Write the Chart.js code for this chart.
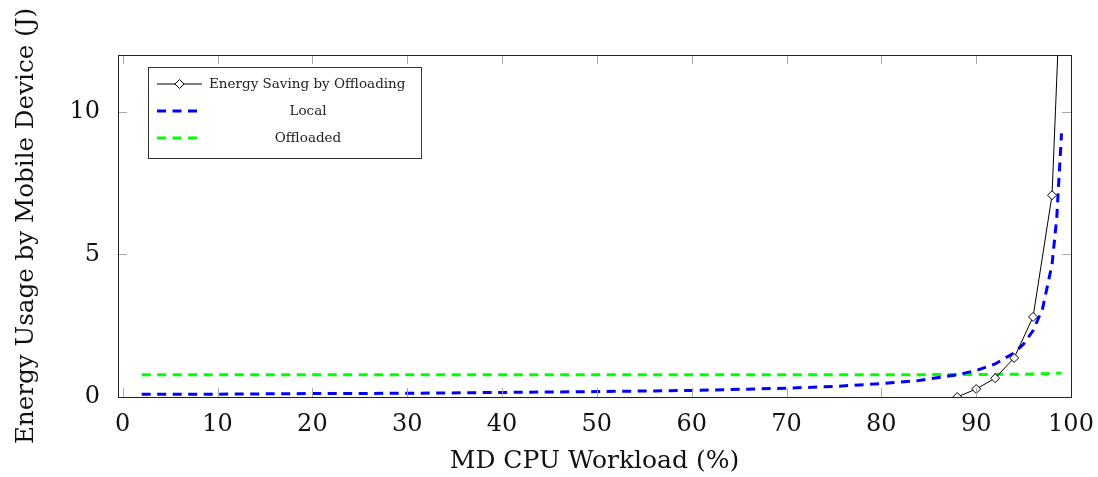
<!DOCTYPE html>
<html>
<head>
<meta charset="utf-8">
<script src="https://cdn.jsdelivr.net/npm/chart.js@4/dist/chart.umd.min.js"></script>
<style>
  html, body { margin: 0; padding: 0; background: #fff; }
</style>
</head>
<body>
<canvas id="energyChart" width="1098" height="477"></canvas>
<script>
// tick labels
const xTicks = [0, 10, 20, 30, 40, 50, 60, 70, 80, 90, 100];
const yTicks = [0, 5, 10];

// Energy Saving by Offloading (last point leaves the plot)
const savingX = [88, 90, 92, 94, 96, 98, 99];
const savingY = [0.0, 0.28, 0.66, 1.37, 2.81, 7.08, 15.3];

// Local
const localX = [2, 10, 20, 30, 40, 50, 60, 70, 75, 80, 84, 88, 90, 92, 94, 95, 96, 97, 98, 98.5, 99];
const localY = [0.10, 0.10, 0.12, 0.13, 0.16, 0.19, 0.23, 0.31, 0.37, 0.47, 0.58, 0.78, 0.93, 1.16, 1.55, 1.86, 2.33, 3.1, 4.65, 6.3, 9.25];

// Offloaded
const offloadX = [2, 20, 40, 60, 80, 90, 95, 99];
const offloadY = [0.78, 0.78, 0.78, 0.78, 0.78, 0.79, 0.80, 0.84];

const SERIF = '"DejaVu Serif", "Liberation Serif", serif';
const TICK_LEN = 9;
const DASH = [9, 6.5];

function toPoints(xs, ys) {
    return xs.map((x, i) => ({ x: x, y: ys[i] }));
}

// frame round the plot plus small inward ticks on all four sides
const frameTicks = {
    id: 'frameTicks',
    afterDatasetsDraw(chart) {
        const { ctx, chartArea: a, scales } = chart;
        ctx.save();
        ctx.strokeStyle = '#a8a8a8';
        ctx.lineWidth = 1;
        ctx.beginPath();
        scales.x.ticks.forEach(t => {
            const px = Math.round(scales.x.getPixelForValue(t.value)) + 0.5;
            ctx.moveTo(px, a.bottom); ctx.lineTo(px, a.bottom - TICK_LEN);
            ctx.moveTo(px, a.top); ctx.lineTo(px, a.top + TICK_LEN);
        });
        scales.y.ticks.forEach(t => {
            const py = Math.round(scales.y.getPixelForValue(t.value)) + 0.5;
            ctx.moveTo(a.left, py); ctx.lineTo(a.left + TICK_LEN, py);
            ctx.moveTo(a.right, py); ctx.lineTo(a.right - TICK_LEN, py);
        });
        ctx.stroke();
        ctx.strokeStyle = '#222';
        ctx.strokeRect(Math.round(a.left) + 0.5, Math.round(a.top) + 0.5,
            Math.round(a.right - a.left), Math.round(a.bottom - a.top));
        ctx.restore();
    }
};

// legend box inside the plot, top left
const insetLegend = {
    id: 'insetLegend',
    afterDraw(chart) {
        const ctx = chart.ctx;
        const box = { x: 148, y: 67, w: 273, h: 91 };
        const rowY = [84, 111, 138];
        ctx.save();
        ctx.fillStyle = '#fff';
        ctx.fillRect(box.x, box.y, box.w, box.h);
        ctx.strokeStyle = '#333';
        ctx.lineWidth = 1;
        ctx.strokeRect(box.x + 0.5, box.y + 0.5, box.w, box.h);
        ctx.font = '13.5px ' + SERIF;
        ctx.textBaseline = 'middle';
        chart.data.datasets.forEach((ds, i) => {
            const y = rowY[i];
            ctx.save();
            ctx.strokeStyle = ds.borderColor;
            ctx.lineWidth = ds.borderWidth;
            ctx.setLineDash(ds.borderDash || []);
            ctx.beginPath();
            ctx.moveTo(157, y);
            ctx.lineTo(i === 0 ? 202 : 197, y);
            ctx.stroke();
            ctx.restore();
            if (i === 0) {
                const cx = 179.5, r = 4.5;
                ctx.beginPath();
                ctx.moveTo(cx, y - r); ctx.lineTo(cx + r, y);
                ctx.lineTo(cx, y + r); ctx.lineTo(cx - r, y);
                ctx.closePath();
                ctx.fillStyle = '#fff';
                ctx.fill();
                ctx.strokeStyle = '#000';
                ctx.lineWidth = 1;
                ctx.stroke();
                ctx.fillStyle = '#222';
                ctx.textAlign = 'left';
                ctx.fillText(ds.label, 209, y);
            } else {
                ctx.fillStyle = '#222';
                ctx.textAlign = 'center';
                ctx.fillText(ds.label, 308, y);
            }
        });
        ctx.restore();
    }
};

const ctx = document.getElementById('energyChart').getContext('2d');
const energyChart = new Chart(ctx, {
    type: 'line',
    data: {
        datasets: [
            {
                label: 'Energy Saving by Offloading',
                data: toPoints(savingX, savingY),
                borderColor: '#000',
                borderWidth: 1,
                pointStyle: 'rectRot',
                pointRadius: 4.5,
                pointBackgroundColor: '#fff',
                pointBorderColor: '#000',
                pointBorderWidth: 1
            },
            {
                label: 'Local',
                data: toPoints(localX, localY),
                borderColor: '#0000ff',
                borderWidth: 3,
                borderDash: DASH,
                pointRadius: 0
            },
            {
                label: 'Offloaded',
                data: toPoints(offloadX, offloadY),
                borderColor: '#00ff00',
                borderWidth: 3,
                borderDash: DASH,
                pointRadius: 0
            }
        ]
    },
    options: {
        responsive: false,
        animation: false,
        devicePixelRatio: 1,
        layout: { padding: { left: 0, right: 27, top: 55, bottom: 0 } },
        plugins: {
            legend: { display: false },
            tooltip: { enabled: false }
        },
        scales: {
            x: {
                type: 'linear',
                min: -0.5,
                max: 100,
                grid: { display: false },
                border: { display: false },
                afterBuildTicks: scale => { scale.ticks = xTicks.map(v => ({ value: v })); },
                afterFit: scale => {
                    scale.height = 80;
                    scale.paddingLeft = 0;
                    scale.paddingRight = 0;
                },
                ticks: {
                    padding: 5,
                    color: '#111',
                    font: { family: SERIF, size: 24 },
                    maxRotation: 0
                },
                title: {
                    display: true,
                    text: 'MD CPU Workload (%)',
                    color: '#111',
                    font: { family: SERIF, size: 25, lineHeight: 1.2 },
                    padding: { top: 0, bottom: 1 }
                }
            },
            y: {
                min: 0,
                max: 12,
                grid: { display: false },
                border: { display: false },
                afterBuildTicks: scale => { scale.ticks = yTicks.map(v => ({ value: v })); },
                afterFit: scale => {
                    scale.width = 118;
                    scale.paddingTop = 0;
                    scale.paddingBottom = 0;
                },
                ticks: {
                    padding: 10,
                    color: '#111',
                    font: { family: SERIF, size: 24 }
                },
                title: {
                    display: true,
                    text: 'Energy Usage by Mobile Device (J)',
                    color: '#111',
                    font: { family: SERIF, size: 24.6, lineHeight: 1.2 },
                    padding: { top: 12, bottom: 0 }
                }
            }
        }
    },
    plugins: [frameTicks, insetLegend]
});
</script>
</body>
</html>
